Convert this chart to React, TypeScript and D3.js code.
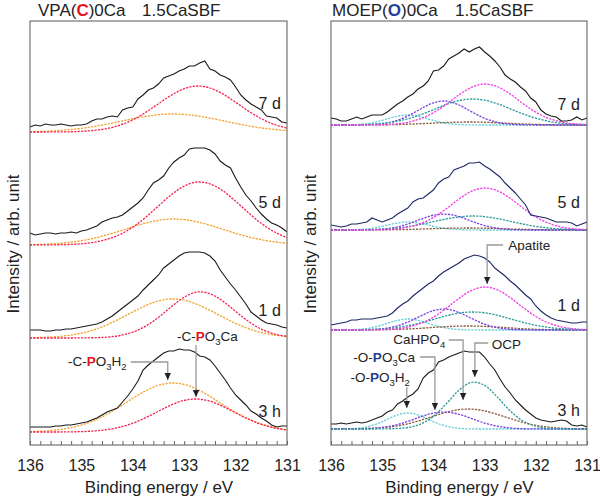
import { useEffect, useRef } from "react";
import * as d3 from "d3";

const FONT = "Arial, 'Liberation Sans', Helvetica, sans-serif";

// binding energy axis, high -> low as usual for XPS
const eMax = 136;
const eMin = 131;
const rawEnergies = d3.range(51).map((i) => +(eMax - i * 0.1).toFixed(2));
const fitEnergies = d3.range(21).map((i) => +(eMax - i * 0.25).toFixed(2));
const tickValues = d3.range(26).map((i) => +(eMin + i * 0.2).toFixed(1));

const times = ["7 d", "5 d", "1 d", "3 h"];

// ---------- VPA(C)0Ca ----------
const vpaOffsets = [313, 200, 107, 13];
const vpaLabelLift = [23, 37, 22, 15];

const vpaRaw7d = [5, 7, 6, 8, 7, 7, 8, 7, 6, 7, 7, 8, 11, 13, 13, 15, 16, 15, 22, 24, 25, 33, 37, 42, 44, 48, 54, 56, 58, 61, 63, 66, 66, 69, 71, 63, 61, 57, 55, 52, 45, 37, 32, 28, 25, 22, 16, 15, 14, 10, 9];
const vpaRaw5d = [12, 10, 11, 12, 12, 11, 12, 12, 13, 12, 14, 15, 17, 19, 23, 25, 27, 28, 30, 34, 38, 42, 47, 55, 62, 65, 69, 77, 83, 87, 90, 96, 97, 97, 97, 95, 91, 84, 80, 77, 67, 58, 50, 44, 37, 31, 26, 22, 20, 17, 13];
const vpaRaw1d = [8, 8, 8, 7, 7, 8, 8, 9, 9, 10, 11, 12, 13, 14, 16, 19, 22, 26, 30, 34, 38, 42, 48, 53, 58, 63, 70, 74, 78, 82, 85, 86, 86, 86, 85, 82, 77, 68, 61, 54, 48, 41, 34, 26, 22, 18, 15, 14, 13, 11, 10];
const vpaRaw3h = [5, 5, 5, 5, 5, 6, 6, 7, 7, 8, 9, 10, 12, 14, 17, 20, 22, 24, 30, 36, 43, 51, 62, 67, 71, 75, 79, 81, 81, 83, 82, 82, 80, 76, 75, 72, 66, 59, 52, 44, 37, 32, 27, 21, 18, 14, 11, 7, 5, 6, 6];

// -C-PO3Ca (red)
const vpaPO3Ca7d = [0, 0, 0.1, 0.2, 0.7, 1.6, 3.5, 6.9, 12.2, 19.6, 28.3, 36.8, 43.3, 46, 44, 38.1, 29.7, 20.9, 13.3, 7.6, 3.9];
const vpaPO3Ca5d = [0, 0.1, 0.2, 0.5, 1.2, 2.8, 5.7, 10.5, 17.9, 27.7, 39.1, 50.3, 58.9, 63, 61.1, 54.3, 43.8, 32.2, 21.6, 13.2, 7.3];
const vpaPO3Ca1d = [0, 0, 0, 0, 0.1, 0.3, 0.9, 2.5, 5.9, 11.9, 20.7, 31.3, 40.8, 46, 44.3, 36.9, 26.6, 16.6, 8.8, 4.1, 1.6];
const vpaPO3Ca3h = [0, 0, 0, 0.1, 0.4, 1, 2.4, 4.8, 8.8, 14.3, 20.8, 27.1, 31.6, 33, 30.8, 25.7, 19.2, 12.9, 7.7, 4.1, 2];

// -C-PO3H2 (orange)
const vpaPO3H27d = [0.4, 0.7, 1.3, 2.3, 3.7, 5.6, 7.9, 10.6, 13.3, 15.6, 17.3, 18, 17.6, 16.1, 13.9, 11.3, 8.6, 6.1, 4.1, 2.6, 1.5];
const vpaPO3H25d = [0.3, 0.7, 1.4, 2.5, 4.3, 6.9, 10.2, 14.1, 18.2, 22, 24.7, 26, 25.4, 23.2, 19.8, 15.8, 11.7, 8.1, 5.3, 3.2, 1.8];
const vpaPO3H21d = [0.2, 0.6, 1.3, 2.6, 4.8, 8.3, 13.2, 19.4, 26.1, 32.4, 37.1, 39, 37.8, 33.7, 27.7, 21, 14.6, 9.4, 5.5, 3, 1.5];
const vpaPO3H23h = [0.4, 0.9, 2, 3.9, 6.9, 11.6, 17.8, 25.5, 33.7, 41.2, 46.7, 49, 47.6, 42.8, 35.6, 27.4, 19.5, 12.9, 7.9, 4.5, 2.3];

// ---------- MOEP(O)0Ca ----------
const moepOffsets = [320, 215, 115, 16];
const moepLabelLift = [15, 22, 19, 13];

const moepRaw7d = [7, 6, 4, 4, 6, 8, 6, 8, 10, 10, 10, 13, 17, 21, 24, 28, 31, 36, 39, 44, 54, 55, 59, 66, 69, 72, 76, 73, 76, 78, 73, 69, 64, 58, 50, 46, 43, 38, 34, 27, 23, 15, 11, 9, 8, 4, 4, 5, 8, 5, 7];
const moepRaw5d = [5, 4, 3, 4, 6, 6, 7, 8, 12, 10, 8, 10, 12, 16, 19, 22, 28, 31, 32, 36, 40, 47, 51, 53, 60, 62, 64, 67, 67, 68, 64, 61, 57, 53, 47, 42, 37, 31, 25, 15, 14, 13, 12, 10, 8, 8, 8, 7, 4, 6, 8];
const moepRaw1d = [5, 6, 7, 8, 10, 10, 11, 11, 11, 12, 13, 14, 17, 22, 26, 29, 34, 38, 42, 46, 49, 54, 58, 61, 64, 67, 71, 73, 75, 74, 72, 68, 62, 58, 54, 49, 45, 40, 35, 31, 24, 19, 15, 12, 10, 9, 8, 7, 7, 8, 8];
const moepRaw3h = [5, 5, 6, 5, 6, 7, 6, 7, 9, 11, 13, 17, 19, 25, 28, 32, 35, 40, 51, 56, 59, 67, 69, 72, 74, 76, 78, 77, 77, 77, 72, 65, 59, 50, 42, 36, 29, 24, 19, 15, 11, 9, 8, 7, 8, 9, 8, 4, 3, 4, 2];

// apatite (magenta)
const moepApatite7d = [0, 0, 0, 0.1, 0.3, 1, 2.7, 6.3, 12.2, 20.7, 30.1, 37.8, 41, 38.3, 30.9, 21.4, 12.8, 6.6, 3, 1.1, 0.4];
const moepApatite5d = [0, 0, 0, 0.1, 0.4, 1.1, 2.8, 6.4, 12.5, 21.2, 30.9, 38.8, 42, 39.2, 31.6, 22, 13.1, 6.8, 3, 1.2, 0.4];
const moepApatite1d = [0, 0, 0, 0.1, 0.4, 1.1, 2.9, 6.6, 12.8, 21.7, 31.6, 39.7, 43, 40.2, 32.4, 22.5, 13.5, 7, 3.1, 1.2, 0.4];

// OCP (teal)
const moepOCP7d = [0, 0.1, 0.3, 0.7, 1.6, 3.3, 6.2, 10.3, 15.3, 20.5, 24.4, 26, 24.8, 21.2, 16.2, 11.1, 6.8, 3.7, 1.8, 0.8, 0.3];
const moepOCP5d = [0, 0, 0.1, 0.4, 0.9, 1.8, 3.3, 5.6, 8.3, 11, 13.1, 14, 13.4, 11.4, 8.7, 6, 3.6, 2, 1, 0.4, 0.2];
const moepOCP1d = [0, 0.1, 0.2, 0.5, 1.1, 2.3, 4.3, 7.1, 10.6, 14.2, 16.9, 18, 17.2, 14.7, 11.2, 7.7, 4.7, 2.6, 1.3, 0.6, 0.2];
const moepOCP3h = [0, 0, 0, 0, 0.1, 0.4, 1.5, 4.9, 12.7, 25.1, 38.8, 46.7, 43.7, 31.9, 18.1, 8, 2.8, 0.7, 0.2, 0, 0];

// -O-PO3Ca (violet)
const moepPO3Ca7d = [0, 0, 0.1, 0.4, 1.3, 4, 9, 16, 22.2, 23.9, 20, 13.1, 6.7, 2.6, 0.8, 0.2, 0, 0, 0, 0, 0];
const moepPO3Ca5d = [0, 0, 0, 0.2, 0.9, 2.6, 6, 10.7, 14.8, 15.9, 13.4, 8.7, 4.4, 1.8, 0.5, 0.1, 0, 0, 0, 0, 0];
const moepPO3Ca1d = [0, 0, 0.1, 0.3, 1.2, 3.5, 7.9, 14, 19.4, 20.9, 17.5, 11.5, 5.8, 2.3, 0.7, 0.2, 0, 0, 0, 0, 0];
const moepPO3Ca3h = [0, 0, 0.1, 0.5, 1.6, 3.8, 7.6, 12.2, 15.9, 16.9, 14.7, 10.3, 5.9, 2.8, 1, 0.3, 0.1, 0, 0, 0, 0];

// -O-PO3H2 (cyan)
const moepPO3H27d = [0, 0.1, 0.4, 1.7, 4.6, 8.2, 10, 8.2, 4.6, 1.7, 0.4, 0.1, 0, 0, 0, 0, 0, 0, 0, 0, 0];
const moepPO3H25d = [0, 0.1, 0.4, 1.4, 3.7, 6.6, 8, 6.6, 3.7, 1.4, 0.4, 0.1, 0, 0, 0, 0, 0, 0, 0, 0, 0];
const moepPO3H21d = [0, 0.1, 0.5, 1.9, 5, 9.1, 11, 9.1, 5, 1.9, 0.5, 0.1, 0, 0, 0, 0, 0, 0, 0, 0, 0];
const moepPO3H23h = [0, 0.1, 0.7, 2.8, 7.3, 13.2, 16, 13.2, 7.3, 2.8, 0.7, 0.1, 0, 0, 0, 0, 0, 0, 0, 0, 0];

// CaHPO4 (brown)
const moepCaHPO47d = [0, 0, 0, 0.1, 0.2, 0.4, 0.8, 1.3, 1.9, 2.5, 2.9, 3, 2.7, 2.2, 1.6, 1, 0.6, 0.3, 0.1, 0, 0];
const moepCaHPO45d = [0, 0, 0, 0.1, 0.1, 0.3, 0.5, 0.9, 1.3, 1.7, 1.9, 2, 1.8, 1.5, 1, 0.7, 0.4, 0.2, 0.1, 0, 0];
const moepCaHPO41d = [0, 0, 0, 0.1, 0.3, 0.6, 1, 1.7, 2.6, 3.3, 3.9, 4, 3.6, 2.9, 2.1, 1.3, 0.7, 0.4, 0.2, 0.1, 0];
const moepCaHPO43h = [0, 0.1, 0.2, 0.6, 1.3, 2.8, 5.2, 8.7, 12.8, 16.7, 19.4, 19.9, 18.1, 14.6, 10.5, 6.6, 3.7, 1.9, 0.8, 0.3, 0.1];

const RED_MARK = "#e8141b";
const BLUE_MARK = "#23409a";

const vpaComps = [
  { name: "-C-PO3H2", color: "#f6a12c", values: [vpaPO3H27d, vpaPO3H25d, vpaPO3H21d, vpaPO3H23h] },
  { name: "-C-PO3Ca", color: "#f5224e", values: [vpaPO3Ca7d, vpaPO3Ca5d, vpaPO3Ca1d, vpaPO3Ca3h] },
];

const moepComps = [
  { name: "-O-PO3H2", color: "#62cfd6", values: [moepPO3H27d, moepPO3H25d, moepPO3H21d, moepPO3H23h] },
  { name: "CaHPO4", color: "#8a5a3a", values: [moepCaHPO47d, moepCaHPO45d, moepCaHPO41d, moepCaHPO43h] },
  { name: "-O-PO3Ca", color: "#7a3fe4", values: [moepPO3Ca7d, moepPO3Ca5d, moepPO3Ca1d, moepPO3Ca3h] },
  { name: "OCP", color: "#2a9b9b", values: [moepOCP7d, moepOCP5d, moepOCP1d, moepOCP3h] },
  { name: "Apatite", color: "#f23ae6", values: [moepApatite7d, moepApatite5d, moepApatite1d, null] },
];

// text parts: [text, kind] kind: "" | "mark" | "sub"
const vpaNotes = [
  { parts: [["-C-", ""], ["P", "mark"], ["O", ""], ["3", "sub"], ["Ca", ""]], at: [133.14, 104], anchor: "start", path: [[132.77, 100], [132.77, 48]] },
  { parts: [["-C-", ""], ["P", "mark"], ["O", ""], ["3", "sub"], ["H", ""], ["2", "sub"]], at: [134.12, 79], anchor: "end", path: [[134.04, 83], [133.32, 83], [133.32, 65]] },
];

const moepNotes = [
  { parts: [["Apatite", ""]], at: [132.54, 195], anchor: "start", path: [[132.64, 200], [132.95, 200], [132.95, 161]] },
  { parts: [["CaHPO", ""], ["4", "sub"]], at: [133.77, 101], anchor: "end", path: [[133.7, 105], [133.42, 105], [133.42, 45]] },
  { parts: [["OCP", ""]], at: [132.86, 96], anchor: "start", path: [[132.93, 102], [133.19, 102], [133.19, 68]] },
  { parts: [["-O-", ""], ["P", "mark"], ["O", ""], ["3", "sub"], ["Ca", ""]], at: [134.36, 83], anchor: "end", path: [[134.26, 88], [133.97, 88], [133.97, 35]] },
  { parts: [["-O-", ""], ["P", "mark"], ["O", ""], ["3", "sub"], ["H", ""], ["2", "sub"]], at: [134.46, 63], anchor: "end", path: [[134.52, 58], [134.52, 37]] },
];

const TOP = 21;
const BOTTOM = 445;
const yScale = d3.scaleLinear().domain([0, 424]).range([BOTTOM, TOP]);

function NoteText({ parts, x, y, anchor, markColor }) {
  let shift = 0;
  const spans = parts.map(([t, kind], i) => {
    const target = kind === "sub" ? 3.5 : 0;
    const dy = target - shift;
    shift = target;
    return (
      <tspan
        key={i}
        dy={dy}
        fontSize={kind === "sub" ? 9.5 : 13.5}
        fontWeight={kind === "mark" ? "bold" : "normal"}
        fill={kind === "mark" ? markColor : "#222"}
      >
        {t}
      </tspan>
    );
  });
  return (
    <text x={x} y={y} textAnchor={anchor} fontFamily={FONT} fontSize={13.5}>
      {spans}
    </text>
  );
}

function Panel({ left, right, offsets, raws, rawColors, comps, lifts, labelE, title, markColor, notes, yLabelX }) {
  const axisRef = useRef(null);
  const x = d3.scaleLinear().domain([eMax, eMin]).range([left, right]);

  useEffect(() => {
    const g = d3.select(axisRef.current);
    g.call(
      d3
        .axisBottom(x)
        .tickValues(tickValues)
        .tickSize(-4)
        .tickPadding(15)
        .tickFormat((d) => (Number.isInteger(+d) ? String(d) : ""))
    );
    g.select(".domain").remove();
    g.selectAll(".tick line").attr("stroke", "#666");
    g.selectAll(".tick text").attr("font-size", 16).attr("font-family", FONT).attr("fill", "#222");
  }, [left, right]);

  const rawLine = d3
    .line()
    .x((d) => x(d[0]))
    .y((d) => yScale(d[1]));
  const fitLine = d3
    .line()
    .curve(d3.curveCatmullRom.alpha(0.5))
    .x((d) => x(d[0]))
    .y((d) => yScale(d[1]));
  const notePath = d3
    .line()
    .x((d) => x(d[0]))
    .y((d) => yScale(d[1]));

  return (
    <g>
      <text x={title.x} y={16} fontFamily={FONT} fontSize={17} fill="#222">
        {title.pre}
        <tspan fontWeight="bold" fill={markColor}>{title.mark}</tspan>
        {title.post}
      </text>
      <text x={title.x2} y={16} fontFamily={FONT} fontSize={17} fill="#222">
        1.5CaSBF
      </text>

      {offsets.map((off, k) => (
        <g key={k}>
          {comps.map((c) =>
            c.values[k] ? (
              <path
                key={c.name}
                d={fitLine(fitEnergies.map((e, i) => [e, off + c.values[k][i]]))}
                fill="none"
                stroke={c.color}
                strokeWidth={1.3}
                strokeDasharray="2.2,1.2"
              />
            ) : null
          )}
          <path
            d={rawLine(rawEnergies.map((e, i) => [e, off + raws[k][i]]))}
            fill="none"
            stroke={rawColors[k]}
            strokeWidth={1.1}
          />
          <text
            x={x(labelE)}
            y={yScale(off + lifts[k])}
            textAnchor="end"
            fontFamily={FONT}
            fontSize={16}
            fill="#222"
          >
            {times[k]}
          </text>
        </g>
      ))}

      {notes.map((n, i) => {
        const end = n.path[n.path.length - 1];
        const tx = x(end[0]);
        const ty = yScale(end[1]);
        return (
          <g key={i}>
            <path d={notePath(n.path)} fill="none" stroke="#9a9a9a" strokeWidth={1.3} />
            <path d={`M${tx - 3.2},${ty - 7}L${tx + 3.2},${ty - 7}L${tx},${ty}Z`} fill="#222" />
            <NoteText
              parts={n.parts}
              x={x(n.at[0])}
              y={yScale(n.at[1])}
              anchor={n.anchor}
              markColor={markColor}
            />
          </g>
        );
      })}

      <rect x={left} y={TOP} width={right - left} height={BOTTOM - TOP} fill="none" stroke="#666" strokeWidth={1.1} />
      <g ref={axisRef} transform={`translate(0,${BOTTOM})`} />

      <text x={(left + right) / 2 + 0.5} y={493} textAnchor="middle" fontFamily={FONT} fontSize={17} fill="#222">
        Binding energy / eV
      </text>
      <text
        transform={`translate(${yLabelX},244) rotate(-90)`}
        textAnchor="middle"
        fontFamily={FONT}
        fontSize={17}
        fill="#222"
      >
        Intensity / arb. unit
      </text>
    </g>
  );
}

export default function App() {
  return (
    <svg
      width={600}
      height={500}
      style={{ position: "absolute", left: 0, top: 0, background: "#fff" }}
    >
      <Panel
        left={30}
        right={287}
        offsets={vpaOffsets}
        raws={[vpaRaw7d, vpaRaw5d, vpaRaw1d, vpaRaw3h]}
        rawColors={["#1a1a1a", "#1a1a1a", "#1a1a1a", "#1a1a1a"]}
        comps={vpaComps}
        lifts={vpaLabelLift}
        labelE={131.12}
        title={{ x: 38, x2: 142, pre: "VPA(", mark: "C", post: ")0Ca" }}
        markColor={RED_MARK}
        notes={vpaNotes}
        yLabelX={19}
      />
      <Panel
        left={331}
        right={587}
        offsets={moepOffsets}
        raws={[moepRaw7d, moepRaw5d, moepRaw1d, moepRaw3h]}
        rawColors={["#1a1a1a", "#1c2766", "#1c2766", "#1a1a1a"]}
        comps={moepComps}
        lifts={moepLabelLift}
        labelE={131.14}
        title={{ x: 332, x2: 455, pre: "MOEP(", mark: "O", post: ")0Ca" }}
        markColor={BLUE_MARK}
        notes={moepNotes}
        yLabelX={316}
      />
    </svg>
  );
}
